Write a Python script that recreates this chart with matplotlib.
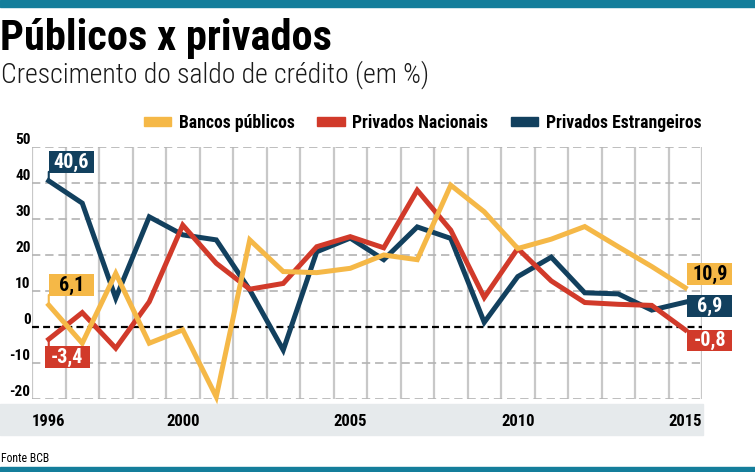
import matplotlib
matplotlib.use("Agg")
import matplotlib.pyplot as plt
from matplotlib import font_manager
from matplotlib.patches import Patch, Rectangle
from matplotlib.path import Path

# data (growth of credit balance, %)
years = list(range(1996, 2016))
bancos_publicos = [6.1, -4.5, 14.9, -4.5, -0.8, -19.4, 24.2, 15.4, 15.1, 16.3,
                   20.0, 18.7, 39.4, 32.0, 21.8, 24.4, 27.9, 22.3, 16.8, 10.9]
privados_nacionais = [-3.4, 4.0, -5.9, 7.0, 28.3, 17.7, 10.5, 12.1, 22.3, 25.1,
                      22.0, 38.0, 26.9, 8.2, 21.8, 12.8, 6.8, 6.3, 6.0, -0.8]
privados_estrangeiros = [40.6, 34.4, 8.0, 30.6, 25.6, 24.2, 10.3, -6.4, 20.9, 24.7,
                         18.7, 27.8, 24.6, 1.3, 14.0, 19.4, 9.5, 9.2, 4.7, 6.9]
series_names = ["Bancos públicos", "Privados Nacionais", "Privados Estrangeiros"]
year_ticks = [1996, 2000, 2005, 2010, 2015]
value_ticks = [-20, -10, 0, 10, 20, 30, 40, 50]

YELLOW = "#f5b847"
RED = "#d13a2a"
NAVY = "#12405e"
TEAL = "#147e9b"
BAND = "#e6eaec"


def narrow_family():
    """Pick a condensed sans if one is installed, else the narrowest usual one."""
    fonts = font_manager.fontManager.ttflist
    names = {f.name for f in fonts}
    for name in ["Liberation Sans Narrow", "Roboto Condensed", "Open Sans Condensed",
                 "Noto Sans Condensed", "DejaVu Sans Condensed", "Arial Narrow"]:
        if name in names:
            return name, "normal"
    for f in fonts:
        if f.stretch != "normal" and f.name in ("Noto Sans", "DejaVu Sans", "Open Sans", "Roboto"):
            return f.name, "condensed"
    return "Roboto", "normal"


FAMILY, STRETCH = narrow_family()
NARROW = [FAMILY, "DejaVu Sans"]
plt.rcParams["font.family"] = NARROW
plt.rcParams["font.stretch"] = STRETCH
plt.rcParams["lines.scale_dashes"] = False

W, H = 755, 472


def fx(px):
    return px / W


def fy(py):
    return 1 - py / H


fig = plt.figure(figsize=(W / 100, H / 100), dpi=100)

# frame decorations: teal bars and the grey strip behind the year labels
for rect in [((0, fy(7)), 1, 7 / H, TEAL), ((0, 0), 1, 5 / H, TEAL),
             ((0, fy(435)), fx(703), 31 / H, BAND)]:
    fig.patches.append(Rectangle(rect[0], rect[1], rect[2], transform=fig.transFigure,
                                 color=rect[3], zorder=-1))

fig.text(0, fy(50), "Públicos x privados", fontsize=30.5, fontweight="black",
         va="baseline")
fig.text(fx(1), fy(83), "Crescimento do saldo de crédito (em %)", fontsize=20,
         fontweight="light", va="baseline", color="#1a1a1a")
fig.text(fx(1), fy(462), "Fonte BCB", fontsize=8.5, va="baseline")

ax = fig.add_axes([fx(32), fy(399), fx(702) - fx(32), (399 - 147) / H])
ax.set_xlim(1995.5, 2015.5)
ax.set_ylim(-20, 50)
for s in ax.spines.values():
    s.set_visible(False)

# grid: solid greys between years, dashed greys at the tens, black zero line
for x in [y - 0.5 for y in years] + [years[-1] + 0.5]:
    ax.axvline(x, color="#c8c8c8", lw=1.6, zorder=1)
for v in value_ticks:
    if v == 0:
        ax.axhline(v, color="black", lw=1.6, dashes=(5, 3), zorder=2)
    else:
        ax.axhline(v, color="#b3b3b3", lw=1.2, dashes=(6, 3.5), zorder=1)

for vals, color in [(privados_estrangeiros, NAVY), (privados_nacionais, RED),
                    (bancos_publicos, YELLOW)]:
    ax.plot(years, vals, color=color, lw=3.6, solid_joinstyle="miter",
            zorder=3, clip_on=False)

ax.set_xticks(year_ticks)
ax.set_xticklabels([str(y) for y in year_ticks], fontweight="bold", fontsize=12)
ax.tick_params(axis="x", length=0, pad=11)
ax.set_yticks(value_ticks)
ax.set_yticklabels([str(v) for v in value_ticks], fontweight="bold", fontsize=11)
ax.tick_params(axis="y", length=0, pad=1)
for lbl in ax.get_yticklabels():
    lbl.set_verticalalignment("bottom")

# value boxes at the start and end of each series: all the same width
label_fs = 14.5
BOX_W = 45
PAD = 0.06
pad_px = PAD * label_fs * 100 / 72


def fixed_width_box(x0, y0, width, height, mutation_size):
    pad = PAD * mutation_size
    cx = x0 + width / 2
    left, right = cx - BOX_W / 2, cx + BOX_W / 2
    bottom, top = y0 - pad, y0 + height + pad
    return Path([(left, bottom), (right, bottom), (right, top), (left, top),
                 (left, bottom)], closed=True)


def value_box(x, y, color, txt_color, left, dy, va, stem=0):
    text = f"{y:.1f}".replace(".", ",")
    if stem:
        ax.annotate("", (x, y), xytext=(0, stem), textcoords="offset pixels",
                    arrowprops=dict(arrowstyle="-", color=color, lw=1.5,
                                    shrinkA=0, shrinkB=0), zorder=5)
    ax.annotate(text, (x, y), xytext=(left + BOX_W / 2, dy), textcoords="offset pixels",
                ha="center", va=va, fontsize=label_fs, fontweight="bold", color=txt_color,
                bbox=dict(boxstyle=fixed_width_box, fc=color, ec="none"),
                zorder=5, annotation_clip=False)


value_box(years[0], privados_estrangeiros[0], NAVY, "white", 0, 8 + pad_px, "bottom", stem=9)
value_box(years[0], bancos_publicos[0], YELLOW, "black", 0, 9 + pad_px, "bottom", stem=10)
value_box(years[0], privados_nacionais[0], RED, "white", -4, -7 - pad_px, "top", stem=-8)
value_box(years[-1], bancos_publicos[-1], YELLOW, "black", 2, 3 + pad_px, "bottom")
value_box(years[-1], privados_estrangeiros[-1], NAVY, "white", 2, -4, "center")
value_box(years[-1], privados_nacionais[-1], RED, "white", 2, -pad_px, "top")

handles = [Patch(color=YELLOW), Patch(color=RED), Patch(color=NAVY)]
fig.legend(handles, series_names, ncol=3, loc="center left",
           bbox_to_anchor=(fx(144), fy(123)), frameon=False,
           handlelength=1.55, handleheight=0.4, handletextpad=0.45,
           columnspacing=1.25, borderpad=0, borderaxespad=0,
           prop=dict(family=NARROW, weight="bold", size=12.7, stretch=STRETCH))

fig.savefig("out.png", dpi=100)
